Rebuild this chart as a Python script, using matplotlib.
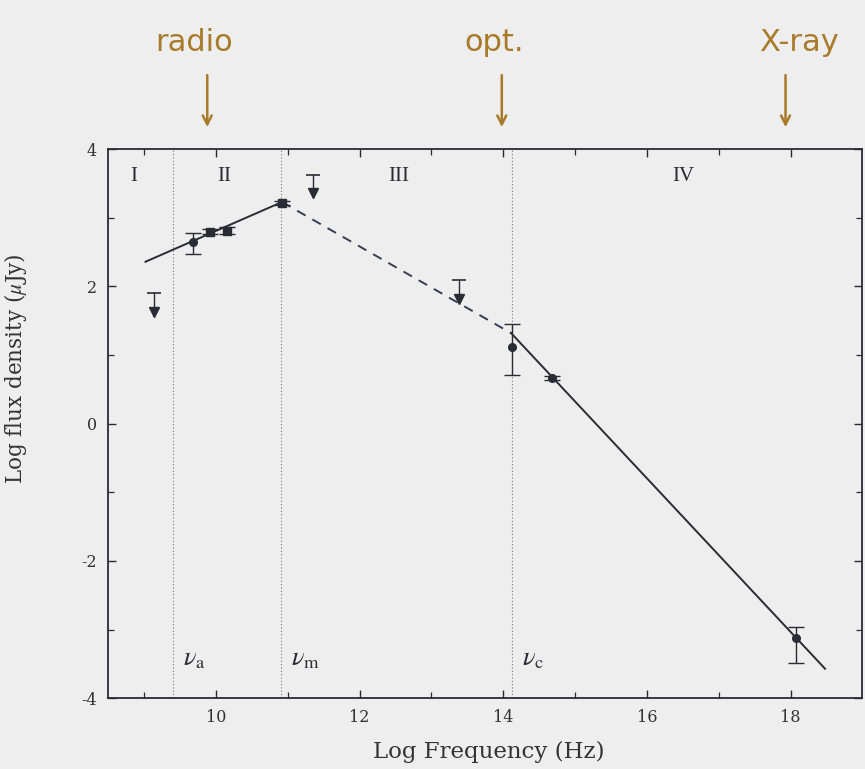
import matplotlib
matplotlib.use('Agg')
import matplotlib.pyplot as plt
import numpy as np

# broadband afterglow spectrum: detections, upper limits and broken power-law model
det_logf = [9.68, 9.92, 10.15, 10.92, 14.12, 14.68, 18.08]
det_logs = [2.65, 2.80, 2.81, 3.22, 1.12, 0.67, -3.12]
det_err_lo = [0.17, 0.03, 0.05, 0.03, 0.41, 0.03, 0.37]
det_err_hi = [0.13, 0.03, 0.05, 0.03, 0.33, 0.03, 0.16]
det_marker = ['o', 's', 's', 's', 'o', 'o', 'o']

lim_logf = [9.14, 11.35, 13.39]
lim_logs = [1.90, 3.63, 2.09]
lim_drop = 0.33

# model break points (start, nu_m, nu_c, end)
model_logf = [9.02, 10.92, 14.11, 18.48]
model_logs = [2.36, 3.23, 1.32, -3.57]

breaks = [9.40, 10.90, 14.12]
break_labels = [r'$\nu_{\rm a}$', r'$\nu_{\rm m}$', r'$\nu_{\rm c}$']

regions = ['I', 'II', 'III', 'IV']
region_logf = [8.85, 10.12, 12.55, 16.5]

bands = ['radio', 'opt.', 'X-ray']
band_logf = [9.88, 13.98, 17.93]

plt.rcParams['mathtext.fontset'] = 'stix'
ink = '#2b2b35'
pen = '#a87a2a'
bg = '#eeeeee'

fig = plt.figure(figsize=(8.65, 7.69), dpi=100, facecolor=bg)
ax = fig.add_axes([0.125, 0.092, 0.872, 0.714], facecolor=bg)

# region boundaries
for xb, lab in zip(breaks, break_labels):
    ax.axvline(xb, color='#777777', lw=0.8, ls=(0, (1, 2)))
    ax.text(xb + 0.14, -3.42, lab, fontsize=19, color=ink, ha='left', va='center')

for xr, lab in zip(region_logf, regions):
    ax.text(xr, 3.6, lab, fontsize=15, family='Liberation Serif', color=ink,
            ha='center', va='center')

# model: solid below nu_m, dashed between nu_m and nu_c, solid above nu_c
ax.plot(model_logf[0:2], model_logs[0:2], color=ink, lw=1.4)
ax.plot(model_logf[1:3], model_logs[1:3], color='#3a3a55', lw=1.4, ls=(0, (5, 4)))
ax.plot(model_logf[2:4], model_logs[2:4], color=ink, lw=1.4)

# detections
for xf, ys, lo, hi, m in zip(det_logf, det_logs, det_err_lo, det_err_hi, det_marker):
    ax.errorbar(xf, ys, yerr=[[lo], [hi]], fmt=m, color=ink, ms=5.5,
                capsize=5.5, elinewidth=1.0, capthick=1.0)

# upper limits
for xf, ys in zip(lim_logf, lim_logs):
    ax.plot([xf, xf], [ys, ys - lim_drop], color=ink, lw=1.0)
    ax.plot(xf, ys, marker='_', color=ink, ms=10, mew=1.2)
    ax.plot(xf, ys - lim_drop + 0.06, marker='v', color=ink, ms=7)

ax.set_xlim(8.5, 19.0)
ax.set_ylim(-4, 4)
ax.set_xticks([10, 12, 14, 16, 18])
ax.set_xticks(np.arange(9, 19, 2), minor=True)
ax.set_yticks([-4, -2, 0, 2, 4])
ax.set_yticks([-3, -1, 1, 3], minor=True)
ax.set_yticklabels(['-4', '-2', '0', '2', '4'])
ax.tick_params(which='both', direction='in', top=True, right=True,
               labelsize=11.5, colors=ink, labelcolor='#333333')
ax.tick_params(which='major', length=6, width=1.0, pad=8)
ax.tick_params(which='minor', length=4, width=0.9)
for lbl in ax.get_xticklabels() + ax.get_yticklabels():
    lbl.set_family('DejaVu Serif')
for sp in ax.spines.values():
    sp.set_color(ink)
    sp.set_linewidth(1.3)

ax.set_xlabel('Log Frequency (Hz)', fontsize=16.5, family='DejaVu Serif', color='#333333')
ax.set_ylabel(r'Log flux density ($\mu$Jy)', fontsize=15.5, family='DejaVu Serif', color='#333333')
ax.xaxis.set_label_coords(0.505, -0.077)
ax.yaxis.set_label_coords(-0.105, 0.60)

# handwritten band markers above the frame
trans = ax.get_xaxis_transform()
text_shift = [-0.18, -0.1, 0.19]
for xf, name, dx in zip(band_logf, bands, text_shift):
    ax.annotate('', xy=(xf, 1.035), xytext=(xf, 1.14), xycoords=trans,
                arrowprops=dict(arrowstyle='->', color=pen, lw=1.8,
                                mutation_scale=16), annotation_clip=False)
    ax.text(xf + dx, 1.195, name, transform=trans, fontsize=22, color=pen,
            family='DejaVu Sans', ha='center', va='center', clip_on=False)

fig.savefig('out.png', dpi=100, facecolor=bg)
